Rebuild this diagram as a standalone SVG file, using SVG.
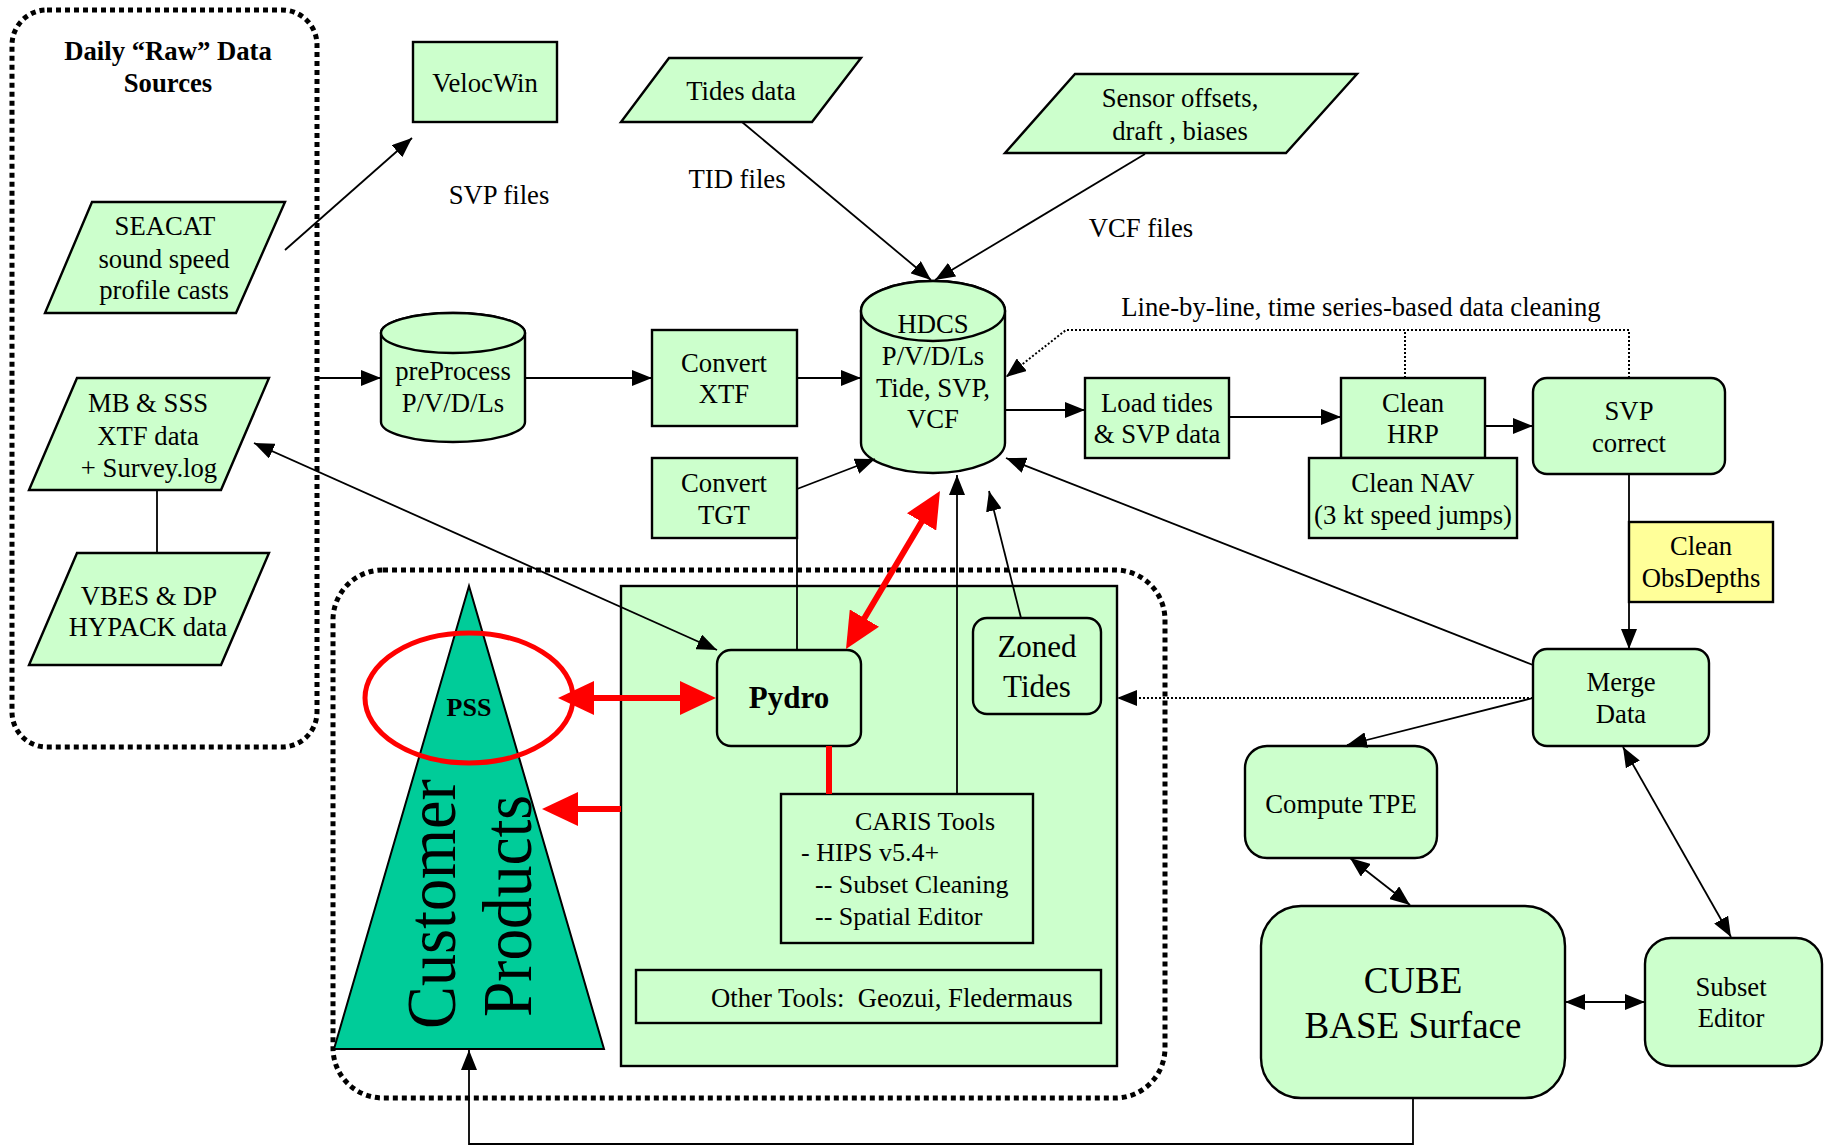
<svg xmlns="http://www.w3.org/2000/svg" width="1827" height="1146" viewBox="0 0 1827 1146">
<style>
.t{font-family:"Liberation Serif","Times New Roman",serif;font-size:26.7px;text-anchor:middle;fill:#000}
.b{font-weight:bold}
.s{text-anchor:start}
.n{fill:#CCFFCC;stroke:#000;stroke-width:2.4}
.y{fill:#FFFF99;stroke:#000;stroke-width:2.4}
.dotbox{fill:none;stroke:#000;stroke-width:5;stroke-dasharray:5 4}
.c{fill:none;stroke:#000;stroke-width:1.8}
.d{fill:none;stroke:#000;stroke-width:2;stroke-dasharray:2 2}
.rc{fill:none;stroke:#FF0000;stroke-width:6}
</style>
<defs>
<marker id="a" markerUnits="userSpaceOnUse" markerWidth="20" markerHeight="16" refX="20" refY="8" orient="auto-start-reverse"><path d="M0,0 L20,8 L0,16 Z" fill="#000"/></marker>
<marker id="r" markerUnits="userSpaceOnUse" markerWidth="36" markerHeight="34" refX="10" refY="17" orient="auto-start-reverse"><path d="M0,0 L36,17 L0,34 Z" fill="#FF0000"/></marker>
</defs>
<rect width="1827" height="1146" fill="#fff"/>

<g id="raw-sources">
<rect class="dotbox" x="12" y="10" width="305" height="737" rx="35"/>
<text class="t b" x="168" y="60">Daily “Raw” Data</text>
<text class="t b" x="168" y="92">Sources</text>
</g>
<g id="products-area">
<rect class="dotbox" x="333" y="570" width="832" height="528" rx="50"/>
</g>
<g id="tools-container">
<rect class="n" x="621" y="586" width="496" height="480"/>
</g>
<g id="customer-products">
<polygon points="469,586 334,1049 604,1049" fill="#00CC99" stroke="#000" stroke-width="2"/>
<ellipse cx="469" cy="698" rx="104" ry="65" fill="none" stroke="#FF0000" stroke-width="5"/>
<text class="t b" x="469" y="716" style="font-size:26px">PSS</text>
<text class="t" transform="translate(455,904) rotate(-90)" style="font-size:70px" textLength="250" lengthAdjust="spacingAndGlyphs">Customer</text>
<text class="t" transform="translate(531,906) rotate(-90)" style="font-size:70px" textLength="222" lengthAdjust="spacingAndGlyphs">Products</text>
</g>
<g id="seacat">
<polygon class="n" points="92,202 285,202 236,313 45,313"/>
<text class="t" x="165" y="235">SEACAT</text>
<text class="t" x="164" y="268">sound speed</text>
<text class="t" x="164" y="299">profile casts</text>
</g>
<g id="mb-sss">
<polygon class="n" points="77,378 269,378 221,490 29,490"/>
<text class="t" x="148" y="412">MB &amp; SSS</text>
<text class="t" x="148" y="445">XTF data</text>
<text class="t" x="149" y="477">+ Survey.log</text>
</g>
<g id="vbes">
<polygon class="n" points="77,553 269,553 221,665 29,665"/>
<text class="t" x="149" y="605">VBES &amp; DP</text>
<text class="t" x="148" y="636">HYPACK data</text>
</g>
<g id="velocwin">
<rect class="n" x="413" y="42" width="144" height="80"/>
<text class="t" x="485" y="92">VelocWin</text>
</g>
<g id="tides-data">
<polygon class="n" points="669,58 861,58 812,122 621,122"/>
<text class="t" x="741" y="100">Tides data</text>
</g>
<g id="sensor-offsets">
<polygon class="n" points="1075,74 1357,74 1286,153 1005,153"/>
<text class="t" x="1180" y="107">Sensor offsets,</text>
<text class="t" x="1180" y="140">draft , biases</text>
</g>
<g id="preprocess">
<path class="n" d="M381,333 L381,422 A72,20 0 0 0 525,422 L525,333 A72,20 0 0 0 381,333 Z"/>
<ellipse class="n" cx="453" cy="333" rx="72" ry="20"/>
<text class="t" x="453" y="380">preProcess</text>
<text class="t" x="453" y="412">P/V/D/Ls</text>
</g>
<g id="convert-xtf">
<rect class="n" x="652" y="330" width="145" height="96"/>
<text class="t" x="724" y="372">Convert</text>
<text class="t" x="724" y="403">XTF</text>
</g>
<g id="convert-tgt">
<rect class="n" x="652" y="458" width="145" height="80"/>
<text class="t" x="724" y="492">Convert</text>
<text class="t" x="724" y="524">TGT</text>
</g>
<g id="hdcs">
<path class="n" d="M861,311 L861,443 A72,30 0 0 0 1005,443 L1005,311 A72,30 0 0 0 861,311 Z"/>
<ellipse class="n" cx="933" cy="311" rx="72" ry="30"/>
<text class="t" x="933" y="333">HDCS</text>
<text class="t" x="933" y="365">P/V/D/Ls</text>
<text class="t" x="933" y="397">Tide, SVP,</text>
<text class="t" x="933" y="428">VCF</text>
</g>
<g id="load-tides">
<rect class="n" x="1085" y="378" width="144" height="80"/>
<text class="t" x="1157" y="412">Load tides</text>
<text class="t" x="1157" y="443">&amp; SVP data</text>
</g>
<g id="clean-hrp">
<rect class="n" x="1341" y="378" width="144" height="80"/>
<text class="t" x="1413" y="412">Clean</text>
<text class="t" x="1413" y="443">HRP</text>
</g>
<g id="clean-nav">
<rect class="n" x="1309" y="458" width="208" height="80"/>
<text class="t" x="1413" y="492">Clean NAV</text>
<text class="t" x="1413" y="524">(3 kt speed jumps)</text>
</g>
<g id="svp-correct">
<rect class="n" x="1533" y="378" width="192" height="96" rx="14"/>
<text class="t" x="1629" y="420">SVP</text>
<text class="t" x="1629" y="452">correct</text>
</g>
<g id="clean-obsdepths">
<rect class="y" x="1629" y="522" width="144" height="80"/>
<text class="t" x="1701" y="555">Clean</text>
<text class="t" x="1701" y="587">ObsDepths</text>
</g>
<g id="merge-data">
<rect class="n" x="1533" y="649" width="176" height="97" rx="14"/>
<text class="t" x="1621" y="691">Merge</text>
<text class="t" x="1621" y="723">Data</text>
</g>
<g id="compute-tpe">
<rect class="n" x="1245" y="746" width="192" height="112" rx="22"/>
<text class="t" x="1341" y="813">Compute TPE</text>
</g>
<g id="cube">
<rect class="n" x="1261" y="906" width="304" height="192" rx="40"/>
<text class="t" x="1413" y="993" style="font-size:37px">CUBE</text>
<text class="t" x="1413" y="1038" style="font-size:37px">BASE Surface</text>
</g>
<g id="subset-editor">
<rect class="n" x="1645" y="938" width="177" height="128" rx="26"/>
<text class="t" x="1731" y="996">Subset</text>
<text class="t" x="1731" y="1027">Editor</text>
</g>
<g id="zoned-tides">
<rect class="n" x="973" y="618" width="128" height="96" rx="14"/>
<text class="t" x="1037" y="657" style="font-size:31px">Zoned</text>
<text class="t" x="1037" y="697" style="font-size:31px">Tides</text>
</g>
<g id="pydro">
<rect class="n" x="717" y="650" width="144" height="96" rx="14"/>
<text class="t b" x="789" y="708" style="font-size:31px">Pydro</text>
</g>
<g id="caris-tools">
<rect class="n" x="781" y="794" width="252" height="149"/>
<text class="t s" x="855" y="830" style="font-size:26px">CARIS Tools</text>
<text class="t s" x="801" y="861" style="font-size:26px">- HIPS v5.4+</text>
<text class="t s" x="815" y="893" style="font-size:26px">-- Subset Cleaning</text>
<text class="t s" x="815" y="925" style="font-size:26px">-- Spatial Editor</text>
</g>
<g id="other-tools">
<rect class="n" x="636" y="970" width="465" height="53"/>
<text class="t s" x="711" y="1007" xml:space="preserve">Other Tools:  Geozui, Fledermaus</text>
</g>

<g id="connectors">
<path class="c" d="M285,250 L412,138" marker-end="url(#a)"/>
<path class="c" d="M317,378 L381,378" marker-end="url(#a)"/>
<path class="c" d="M525,378 L652,378" marker-end="url(#a)"/>
<path class="c" d="M797,378 L861,378" marker-end="url(#a)"/>
<path class="c" d="M742,122 L931,280" marker-end="url(#a)"/>
<path class="c" d="M1145,154 L935,280" marker-end="url(#a)"/>
<path class="c" d="M797,489 L875,459" marker-end="url(#a)"/>
<path class="c" d="M797,538 L797,650"/>
<path class="c" d="M957,794 L957,475" marker-end="url(#a)"/>
<path class="c" d="M1021,618 L989,491" marker-end="url(#a)"/>
<path class="c" d="M1533,665 L1006,458" marker-end="url(#a)"/>
<path class="c" d="M1005,410 L1085,410" marker-end="url(#a)"/>
<path class="c" d="M1229,417 L1341,417" marker-end="url(#a)"/>
<path class="c" d="M1485,426 L1533,426" marker-end="url(#a)"/>
<path class="d" d="M1629,378 L1629,330 L1066,330 L1006,377" marker-end="url(#a)"/>
<path class="d" d="M1405,378 L1405,330"/>
<path class="c" d="M1629,474 L1629,649" marker-end="url(#a)"/>
<path class="d" d="M1533,698 L1117,698" marker-end="url(#a)"/>
<path class="c" d="M1533,698 L1347,745" marker-end="url(#a)"/>
<path class="c" d="M1350,858 L1410,905" marker-start="url(#a)" marker-end="url(#a)"/>
<path class="c" d="M1623,747 L1731,937" marker-start="url(#a)" marker-end="url(#a)"/>
<path class="c" d="M1565,1002 L1645,1002" marker-start="url(#a)" marker-end="url(#a)"/>
<path class="c" d="M1413,1098 L1413,1144 L469,1144 L469,1050" marker-end="url(#a)"/>
<path class="c" d="M254,443 L717,650" marker-start="url(#a)" marker-end="url(#a)"/>
<path class="c" d="M157,490 L157,553"/>
<path class="rc" d="M584,698 L690,698" marker-start="url(#r)" marker-end="url(#r)"/>
<path class="rc" d="M859.3,626.7 L926.7,513.3" marker-start="url(#r)" marker-end="url(#r)"/>
<path class="rc" d="M621,809 L568,809" marker-end="url(#r)"/>
<path class="rc" d="M829,746 L829,794"/>
<text class="t" x="499" y="204">SVP files</text>
<text class="t" x="737" y="188">TID files</text>
<text class="t" x="1141" y="237">VCF files</text>
<text class="t" x="1361" y="316">Line-by-line, time series-based data cleaning</text>
</g>
</svg>
